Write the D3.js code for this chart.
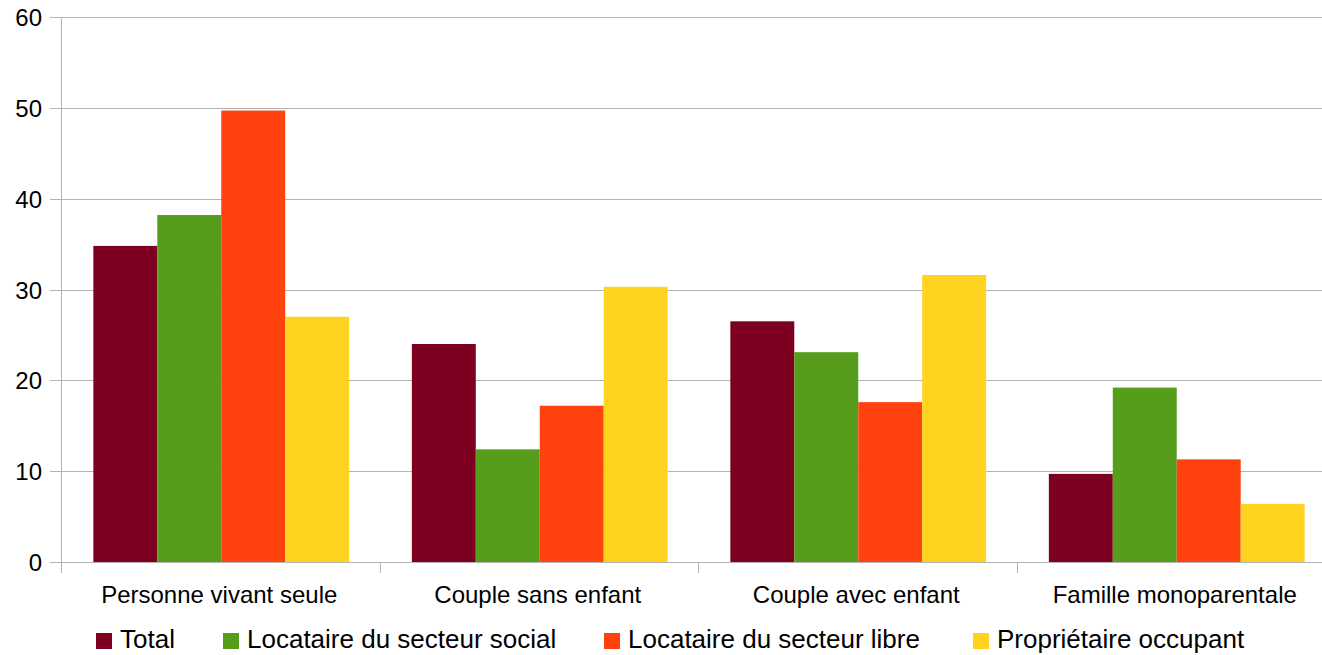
<!DOCTYPE html>
<html>
<head>
<meta charset="utf-8">
<script src="https://cdn.jsdelivr.net/npm/d3@7"></script>
<style>
  body { margin: 0; background: #fff; }
  svg { display: block; font-family: "Liberation Sans", Arial, sans-serif; }
</style>
</head>
<body>
<div id="chart"></div>
<script>
const categories = ['Personne vivant seule', 'Couple sans enfant', 'Couple avec enfant', 'Famille monoparentale'];
const seriesNames = ['Total', 'Locataire du secteur social', 'Locataire du secteur libre', 'Propriétaire occupant'];
const total = [34.8, 24.0, 26.5, 9.7];
const locSocial = [38.2, 12.4, 23.1, 19.2];
const locLibre = [49.7, 17.2, 17.6, 11.3];
const proprietaire = [27.0, 30.3, 31.6, 6.4];
const yTicks = [0, 10, 20, 30, 40, 50, 60];

const colors = ['#7e0021', '#579d1c', '#ff420e', '#ffd320'];
const series = [total, locSocial, locLibre, proprietaire];

const width = 1322, height = 655;
const margin = { left: 62, top: 17, right: -14, bottom: 93 };

const svg = d3.select('#chart').append('svg')
    .attr('width', width)
    .attr('height', height);

const x0 = d3.scaleBand()
    .domain(categories)
    .range([margin.left, width - margin.right])
    .paddingInner(0)
    .paddingOuter(0);

const x1 = d3.scaleBand()
    .domain(d3.range(series.length))
    .range([0, x0.bandwidth()])
    .paddingOuter(0.49)
    .paddingInner(0);

const y = d3.scaleLinear()
    .domain([0, 60])
    .range([height - margin.bottom, margin.top]);

// gridlines + y labels
const yAxis = svg.append('g');
yTicks.forEach(t => {
    yAxis.append('line')
        .attr('x1', margin.left - 12)
        .attr('x2', width)
        .attr('y1', Math.round(y(t)) + 0.5)
        .attr('y2', Math.round(y(t)) + 0.5)
        .style('stroke', '#b3b3b3')
        .style('stroke-width', 1);
    yAxis.append('text')
        .attr('x', 42)
        .attr('y', y(t) + 9)
        .attr('text-anchor', 'end')
        .style('font-size', '24px')
        .style('fill', '#000')
        .text(t);
});

// bars
categories.forEach((c, i) => {
    series.forEach((s, j) => {
        svg.append('rect')
            .attr('x', x0(c) + x1(j))
            .attr('y', y(s[i]))
            .attr('width', x1.bandwidth())
            .attr('height', y(0) - y(s[i]))
            .style('fill', colors[j]);
    });
});

// vertical axis
svg.append('line')
    .attr('x1', margin.left - 0.5)
    .attr('x2', margin.left - 0.5)
    .attr('y1', y(60))
    .attr('y2', y(0) + 11)
    .style('stroke', '#b3b3b3');

// category ticks
categories.forEach((c, i) => {
    if (i === 0) return;
    const xx = Math.round(x0(c)) - 0.5;
    svg.append('line')
        .attr('x1', xx).attr('x2', xx)
        .attr('y1', y(0)).attr('y2', y(0) + 11)
        .style('stroke', '#b3b3b3');
});

// category labels
categories.forEach(c => {
    svg.append('text')
        .attr('x', x0(c) + x0.bandwidth() / 2 - 2)
        .attr('y', 603)
        .attr('text-anchor', 'middle')
        .style('font-size', '24px')
        .style('fill', '#000')
        .text(c);
});

// legend
const legendX = [96, 223, 604, 973];
seriesNames.forEach((name, j) => {
    svg.append('rect')
        .attr('x', legendX[j])
        .attr('y', 633)
        .attr('width', 16)
        .attr('height', 16)
        .style('fill', colors[j]);
    svg.append('text')
        .attr('x', legendX[j] + 24)
        .attr('y', 648)
        .style('font-size', '26px')
        .style('fill', '#000')
        .text(name);
});
</script>
</body>
</html>
